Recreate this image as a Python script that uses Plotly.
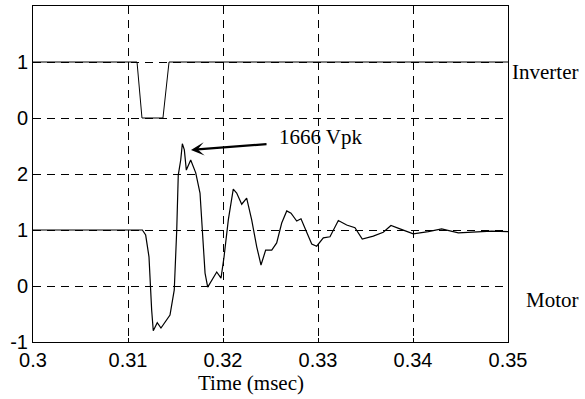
import plotly.graph_objects as go

# ---- data ----
motor_t = [0.300, 0.31151, 0.31186, 0.31221, 0.31249, 0.31266, 0.31308, 0.31347, 0.31442,
           0.31487, 0.31513, 0.31529, 0.31555, 0.31572, 0.31593, 0.31614, 0.31660, 0.31713,
           0.31758, 0.31793, 0.31811, 0.31839, 0.31934, 0.31979, 0.32011, 0.32056, 0.32108,
           0.32144, 0.32197, 0.32249, 0.32302, 0.32355, 0.32400, 0.32449, 0.32513, 0.32565,
           0.32618, 0.32671, 0.32716, 0.32776, 0.32821, 0.32881, 0.32934, 0.32986, 0.33056,
           0.33126, 0.33214, 0.33302, 0.33389, 0.33466, 0.33582, 0.33687, 0.33768, 0.33863,
           0.34003, 0.34161, 0.34302, 0.34477, 0.34687, 0.34828, 0.35]
motor_v = [1.00, 1.00, 0.91, 0.52, -0.43, -0.80, -0.655, -0.75, -0.52,
           -0.07, 1.00, 1.98, 2.25, 2.54, 2.43, 2.07, 2.25, 2.02,
           1.66, 0.82, 0.23, -0.02, 0.25, 0.14, 0.52, 1.18, 1.73,
           1.66, 1.46, 1.57, 1.18, 0.70, 0.375, 0.64, 0.64, 0.77,
           1.125, 1.34, 1.30, 1.16, 1.20, 0.96, 0.75, 0.71, 0.86,
           0.88, 1.17, 1.09, 1.04, 0.84, 0.89, 0.96, 1.08, 1.02,
           0.93, 0.97, 1.02, 0.95, 0.97, 0.98, 0.97]

inv_t = [0.300, 0.31095, 0.31147, 0.31368, 0.31432, 0.35]
inv_v = [1, 1, 0, 0, 1, 1]
inv_offset = 3

y_tickvals = [-1, 0, 1, 2, 3, 4]
y_ticktext = ["-1", "0", "1", "2", "0", "1"]
x_tickvals = [0.30, 0.31, 0.32, 0.33, 0.34, 0.35]
x_ticktext = ["0.3", "0.31", "0.32", "0.33", "0.34", "0.35"]

peak_label = "1666 Vpk"
peak_head = (0.31663, 2.43)
peak_tail = (0.32474, 2.536)
peak_text_pos = (0.32568, 2.66)

fig = go.Figure()
fig.add_trace(go.Scatter(x=inv_t, y=[v + inv_offset for v in inv_v], mode="lines",
                         line=dict(color="black", width=1), showlegend=False))
fig.add_trace(go.Scatter(x=motor_t, y=motor_v, mode="lines",
                         line=dict(color="black", width=1.2), showlegend=False))

tickfont = dict(family="Liberation Sans, Arial", size=20, color="black")
serif = dict(family="Liberation Serif, Times New Roman", size=21, color="black")

fig.update_xaxes(range=[0.30, 0.35], tickvals=x_tickvals, ticktext=x_ticktext,
                 showgrid=True, gridcolor="black", gridwidth=1, griddash="8px,6px",
                 showline=True, linecolor="black", linewidth=1, mirror=True,
                 ticks="inside", ticklen=4, tickcolor="black",
                 tickfont=tickfont, zeroline=False)
fig.update_yaxes(range=[-1, 5], tickvals=y_tickvals, ticktext=y_ticktext,
                 showgrid=True, gridcolor="black", gridwidth=1, griddash="8px,6px",
                 showline=True, linecolor="black", linewidth=1, mirror=True,
                 ticks="inside", ticklen=4, tickcolor="black",
                 tickfont=tickfont, zeroline=False)

fig.add_annotation(x=peak_head[0], y=peak_head[1], ax=peak_tail[0], ay=peak_tail[1],
                   xref="x", yref="y", axref="x", ayref="y", text="",
                   showarrow=True, arrowhead=3, arrowsize=1, arrowwidth=2.2, arrowcolor="black")
fig.add_annotation(x=peak_text_pos[0], y=peak_text_pos[1], xref="x", yref="y",
                   text=peak_label, showarrow=False, xanchor="left", yanchor="middle", font=serif)
fig.add_annotation(x=1.004, y=3.82, xref="paper", yref="y", text="Inverter",
                   showarrow=False, xanchor="left", yanchor="middle", font=serif)
fig.add_annotation(x=1.033, y=-0.25, xref="paper", yref="y", text="Motor",
                   showarrow=False, xanchor="left", yanchor="middle", font=serif)
fig.add_annotation(x=0.459, y=-0.122, xref="paper", yref="paper", text="Time (msec)",
                   showarrow=False, xanchor="center", yanchor="middle", font=serif)

fig.update_layout(width=585, height=399, margin=dict(l=33, r=77, t=6, b=57),
                  paper_bgcolor="white", plot_bgcolor="white")

fig.write_html("out.html")
